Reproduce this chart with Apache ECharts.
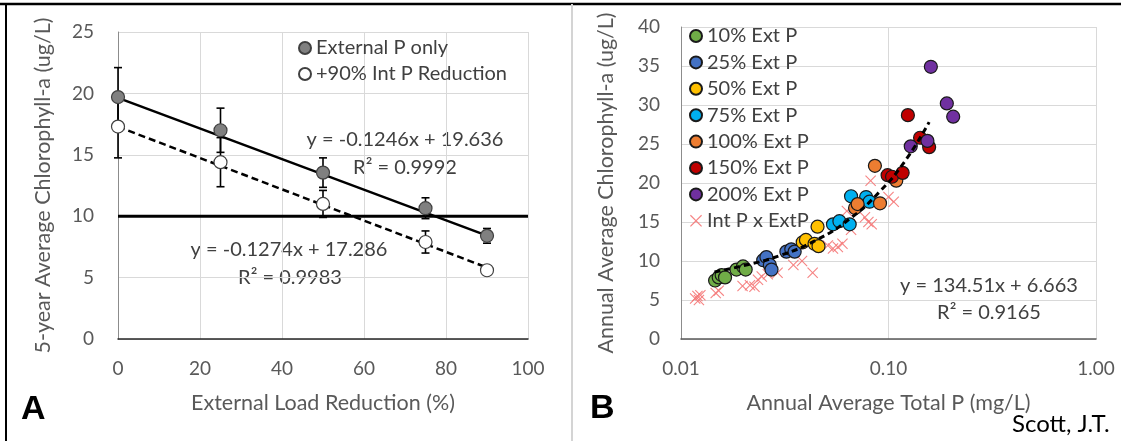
<!DOCTYPE html>
<html>
<head>
<meta charset="utf-8">
<script src="https://cdn.jsdelivr.net/npm/echarts@6/dist/echarts.min.js"></script>
<style>
  html, body { margin: 0; padding: 0; background: #fff; }
  #chart { width: 1121px; height: 441px; }
</style>
</head>
<body>
<div id="chart"></div>
<script>
// panel A: 5-year averages vs external load reduction
const reduction = [0, 25, 50, 75, 90]
const chlExtOnly = [19.7, 17.0, 13.55, 10.65, 8.4]
const errExtOnly = [2.4, 1.8, 1.2, 0.85, 0.6]
const chlIntRed = [17.3, 14.4, 11.0, 7.9, 5.6]
const errIntRed = [2.55, 2.0, 1.1, 0.9, 0.15]
const fitExtOnly = [[0, 19.636], [90, 8.42]]
const fitIntRed = [[0, 17.286], [90, 5.82]]
const targetLine = [[0, 10], [100, 10]]

// panel B: annual TP (mg/L) vs annual chl-a (ug/L)
const ext10 = [[0.0146, 7.5], [0.0152, 7.9], [0.0157, 8.2], [0.0163, 7.9], [0.0185, 8.9], [0.0199, 9.3], [0.0205, 8.9]]
const ext25 = [[0.0249, 10.1], [0.0258, 10.5], [0.0268, 9.5], [0.0273, 8.9], [0.0322, 11.2], [0.034, 11.5], [0.0353, 11.2]]
const ext50 = [[0.0386, 12.4], [0.040, 12.7], [0.044, 12.2], [0.046, 11.9], [0.0455, 14.4]]
const ext75 = [[0.054, 14.7], [0.058, 15.1], [0.065, 14.7], [0.066, 18.3], [0.078, 18.2], [0.081, 17.6]]
const ext100 = [[0.069, 16.8], [0.071, 17.3], [0.086, 22.2], [0.091, 17.4], [0.109, 20.3]]
const ext150 = [[0.099, 21.0], [0.104, 20.8], [0.117, 21.3], [0.124, 28.7], [0.142, 25.8], [0.157, 24.6]]
const ext200 = [[0.128, 24.7], [0.154, 25.4], [0.160, 34.9], [0.191, 30.2], [0.205, 28.5]]
const intXext = [[0.0117, 5.2], [0.0120, 5.5], [0.0122, 5.0], [0.0124, 5.6], [0.0147, 5.9], [0.0152, 6.2],
  [0.0198, 6.8], [0.0215, 6.9], [0.0226, 6.7], [0.0235, 7.6], [0.0245, 8.0], [0.0262, 8.3], [0.0292, 8.5],
  [0.0348, 9.5], [0.0383, 10.0], [0.0431, 8.5], [0.051, 12.0], [0.054, 11.6], [0.057, 11.8], [0.060, 12.2],
  [0.063, 16.4], [0.066, 14.0], [0.077, 15.6], [0.080, 15.0], [0.083, 14.7], [0.082, 20.3], [0.100, 18.2], [0.106, 17.6]]
const fitB = [[0.0145, 8.6], [0.02, 9.4], [0.03, 10.7], [0.045, 12.7], [0.065, 15.4], [0.09, 18.8], [0.12, 22.8], [0.157, 27.8]]

const bNames = ['10% Ext P', '25% Ext P', '50% Ext P', '75% Ext P', '100% Ext P', '150% Ext P', '200% Ext P']
const bColors = ['#70ad47', '#4472c4', '#ffc000', '#00b0f0', '#ed7d31', '#c00000', '#7030a0']
const bData = [ext10, ext25, ext50, ext75, ext100, ext150, ext200]

const FONT = 'Lato, "Open Sans", sans-serif'
const xIcon = 'path://M0.7,0 L5,4.3 L9.3,0 L10,0.7 L5.7,5 L10,9.3 L9.3,10 L5,5.7 L0.7,10 L0,9.3 L4.3,5 L0,0.7 Z'

function errData (vals, errs) {
  return reduction.map((x, i) => [x, vals[i] - errs[i], vals[i] + errs[i]])
}

function renderErr (params, api) {
  const x = api.value(0)
  const lo = api.coord([x, api.value(1)])
  const hi = api.coord([x, api.value(2)])
  const w = 4
  const st = { stroke: '#000', lineWidth: 1.6 }
  return {
    type: 'group',
    children: [
      { type: 'line', shape: { x1: lo[0], y1: lo[1], x2: hi[0], y2: hi[1] }, style: st },
      { type: 'line', shape: { x1: lo[0] - w, y1: lo[1], x2: lo[0] + w, y2: lo[1] }, style: st },
      { type: 'line', shape: { x1: hi[0] - w, y1: hi[1], x2: hi[0] + w, y2: hi[1] }, style: st }
    ]
  }
}

const tickText = { fontFamily: FONT, fontSize: 19, color: '#595959' }
const titleText = { fontFamily: FONT, fontSize: 21.5, color: '#595959' }
const legendText = { fontFamily: FONT, fontSize: 20, color: '#404040', lineHeight: 20 }
const eqFont = '20px ' + FONT
const gridLine = { show: true, lineStyle: { color: '#d9d9d9', width: 1 } }

function eq (x, y, text) {
  return { type: 'text', x: x, y: y, style: { text: text, font: eqFont, fill: '#404040', align: 'center', verticalAlign: 'middle' } }
}

let chart = echarts.init(document.getElementById('chart'))
let option = {
  animation: false,
  textStyle: { fontFamily: FONT },
  grid: [
    { left: 118, right: 593, top: 32, bottom: 102 },
    { left: 681, right: 25, top: 27, bottom: 102 }
  ],
  xAxis: [
    {
      gridIndex: 0, type: 'value', min: 0, max: 100, interval: 20,
      name: 'External Load Reduction (%)', nameLocation: 'middle', nameGap: 53,
      nameTextStyle: titleText,
      axisLine: { lineStyle: { color: '#262626', width: 1.5 } },
      axisTick: { show: false },
      axisLabel: Object.assign({ margin: 20 }, tickText),
      splitLine: gridLine
    },
    {
      gridIndex: 1, type: 'log', logBase: 10, min: 0.01, max: 1,
      name: 'Annual Average Total P (mg/L)', nameLocation: 'middle', nameGap: 53,
      nameTextStyle: titleText,
      axisLine: { lineStyle: { color: '#595959', width: 1.5 } },
      axisTick: { show: false },
      axisLabel: Object.assign({ margin: 20, formatter: v => v.toFixed(2) }, tickText),
      splitLine: gridLine,
      minorSplitLine: { show: false }
    }
  ],
  yAxis: [
    {
      gridIndex: 0, type: 'value', min: 0, max: 25, interval: 5,
      name: '5-year Average Chlorophyll-a (ug/L)', nameLocation: 'middle', nameGap: 64,
      nameTextStyle: titleText,
      axisLine: { show: true, lineStyle: { color: '#8c8c8c', width: 1 } },
      axisTick: { show: false },
      axisLabel: Object.assign({ margin: 24 }, tickText),
      splitLine: gridLine
    },
    {
      gridIndex: 1, type: 'value', min: 0, max: 40, interval: 5,
      name: 'Annual Average Chlorophyll-a (ug/L)', nameLocation: 'middle', nameGap: 64,
      nameTextStyle: titleText,
      axisLine: { show: true, lineStyle: { color: '#8c8c8c', width: 1 } },
      axisTick: { show: false },
      axisLabel: Object.assign({ margin: 21 }, tickText),
      splitLine: gridLine
    }
  ],
  legend: [
    {
      orient: 'vertical', left: 298, top: 38, padding: 0,
      itemWidth: 12, itemHeight: 12, itemGap: 6,
      textStyle: legendText,
      data: [
        { name: 'External P only', icon: 'circle' },
        { name: '+90% Int P Reduction', icon: 'circle' }
      ]
    },
    {
      orient: 'vertical', left: 689, top: 26, padding: 0,
      itemWidth: 12, itemHeight: 12, itemGap: 6.4,
      textStyle: legendText,
      data: bNames.map(n => ({ name: n, icon: 'circle' })).concat([{ name: 'Int P x ExtP', icon: xIcon }])
    }
  ],
  graphic: [
    { type: 'line', shape: { x1: 0, y1: 4, x2: 1121, y2: 4 }, style: { stroke: '#000', lineWidth: 2.5 }, z: 100 },
    { type: 'line', shape: { x1: 6, y1: 4, x2: 6, y2: 441 }, style: { stroke: '#000', lineWidth: 2 }, z: 100 },
    { type: 'line', shape: { x1: 572, y1: 4, x2: 572, y2: 441 }, style: { stroke: '#d4d4d4', lineWidth: 2 }, z: 100 },
    eq(405, 140, 'y = -0.1246x + 19.636'),
    eq(405, 168, 'R² = 0.9992'),
    eq(289, 250, 'y = -0.1274x + 17.286'),
    eq(290, 278, 'R² = 0.9983'),
    eq(989, 286, 'y = 134.51x + 6.663'),
    eq(989, 313, 'R² = 0.9165'),
    { type: 'text', x: 21, y: 410, style: { text: 'A', font: 'bold 34px "Liberation Sans", Arial, sans-serif', fill: '#000', verticalAlign: 'middle' } },
    { type: 'text', x: 590, y: 409, style: { text: 'B', font: 'bold 34px "Liberation Sans", Arial, sans-serif', fill: '#000', verticalAlign: 'middle' } },
    { type: 'text', x: 1012, y: 424, style: { text: 'Scott, J.T.', font: '24px ' + FONT, fill: '#000', verticalAlign: 'middle' } }
  ],
  series: [
    {
      type: 'custom', name: 'errExt', xAxisIndex: 0, yAxisIndex: 0, z: 2,
      renderItem: renderErr, data: errData(chlExtOnly, errExtOnly)
    },
    {
      type: 'custom', name: 'errInt', xAxisIndex: 0, yAxisIndex: 0, z: 2,
      renderItem: renderErr, data: errData(chlIntRed, errIntRed)
    },
    {
      type: 'line', name: 'target', xAxisIndex: 0, yAxisIndex: 0, z: 3, symbol: 'none',
      lineStyle: { color: '#000', width: 3 }, data: targetLine
    },
    {
      type: 'line', name: 'fitExt', xAxisIndex: 0, yAxisIndex: 0, z: 3, symbol: 'none',
      lineStyle: { color: '#000', width: 2.5 }, data: fitExtOnly
    },
    {
      type: 'line', name: 'fitInt', xAxisIndex: 0, yAxisIndex: 0, z: 3, symbol: 'none',
      lineStyle: { color: '#000', width: 2.5, type: [7, 4] }, data: fitIntRed
    },
    {
      type: 'scatter', name: 'External P only', xAxisIndex: 0, yAxisIndex: 0, z: 5,
      symbol: 'circle', symbolSize: 13,
      itemStyle: { color: '#808080', borderColor: '#404040', borderWidth: 1.2, opacity: 1 },
      data: reduction.map((x, i) => [x, chlExtOnly[i]])
    },
    {
      type: 'scatter', name: '+90% Int P Reduction', xAxisIndex: 0, yAxisIndex: 0, z: 5,
      symbol: 'circle', symbolSize: 13,
      itemStyle: { color: '#fff', borderColor: '#404040', borderWidth: 1.2, opacity: 1 },
      data: reduction.map((x, i) => [x, chlIntRed[i]])
    },
    {
      type: 'scatter', name: 'Int P x ExtP', xAxisIndex: 1, yAxisIndex: 1, z: 4,
      symbol: xIcon, symbolSize: 11,
      itemStyle: { color: '#f57676', opacity: 0.9 },
      data: intXext
    }
  ].concat(bNames.map((n, i) => ({
    type: 'scatter', name: n, xAxisIndex: 1, yAxisIndex: 1, z: 5,
    symbol: 'circle', symbolSize: 13,
    itemStyle: { color: bColors[i], borderColor: '#1a1a1a', borderWidth: 1.2, opacity: 1 },
    data: bData[i]
  }))).concat([
    {
      type: 'line', name: 'fitB', xAxisIndex: 1, yAxisIndex: 1, z: 6, symbol: 'none', smooth: true,
      lineStyle: { color: '#000', width: 3, type: [6, 4] }, data: fitB
    }
  ])
}
option && chart.setOption(option)
</script>
</body>
</html>
